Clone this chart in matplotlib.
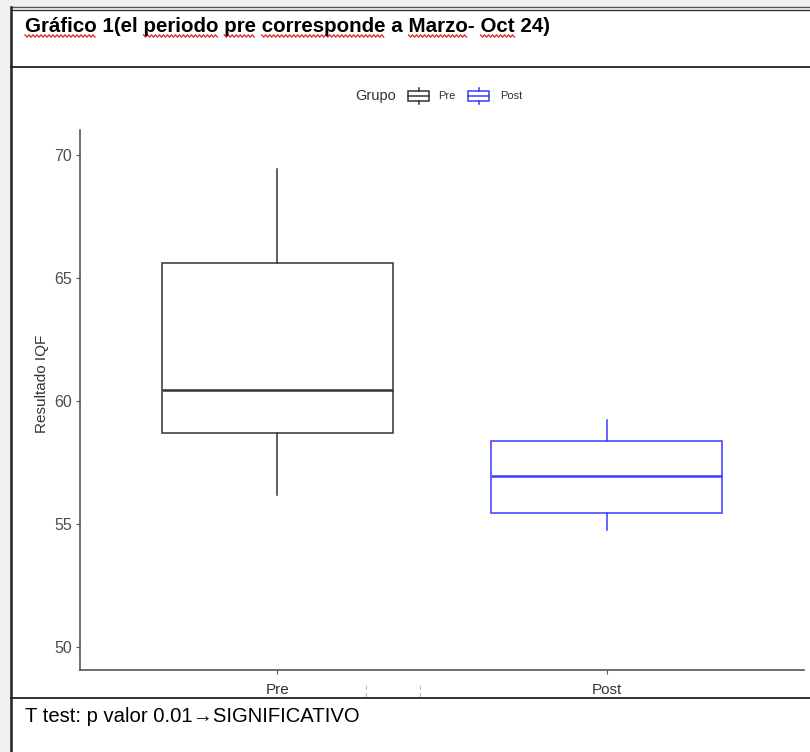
import matplotlib
matplotlib.use("Agg")
import matplotlib.pyplot as plt
import numpy as np
from matplotlib.patches import Rectangle

# datos del grafico
grupos = ["Pre", "Post"]
colores = ["#333333", "#3b3bff"]
whislo = [56.15, 54.75]
q1 = [58.7, 55.45]
mediana = [60.42, 56.95]
q3 = [65.6, 58.35]
whishi = [69.4, 59.2]

titulo = "Gráfico 1(el periodo pre corresponde a Marzo- Oct 24)"
subrayadas = ["Gráfico", "periodo", "pre", "corresponde", "Marzo", "Oct"]
nota = "T test: p valor 0.01\u2192SIGNIFICATIVO"

W, H = 810, 752
fig = plt.figure(figsize=(W / 100, H / 100), dpi=100)
fig.patch.set_facecolor("#f0f0f0")

def fx(px):
    return px / W

def fy(py):
    return 1 - py / H

# tabla del documento
bg = fig.add_axes([0, 0, 1, 1])
bg.set_xlim(0, W)
bg.set_ylim(H, 0)
bg.axis("off")
bg.add_patch(Rectangle((11, 8), W, H, facecolor="white", edgecolor="none"))
bg.plot([11, W], [7, 7], color="#555555", lw=1.0)
bg.plot([11, W], [9.5, 9.5], color="#333333", lw=1.0)
for y in [67, 698]:
    bg.plot([11, W], [y, y], color="#222222", lw=1.3)
bg.plot([11, 11], [7, H], color="#222222", lw=1.8)

tfont = dict(fontsize=14.8, fontweight="bold", family="Liberation Sans")
tx, ty = 25, 32
bg.text(tx, ty, titulo, va="baseline", ha="left", color="black", **tfont)

# subrayado rojo de la correccion ortografica
rend = fig.canvas.get_renderer()
inicio = 0
for w in subrayadas:
    k = titulo.index(w, inicio)
    inicio = k + len(w)
    pal = bg.text(tx, ty, titulo[:k + len(w)], va="baseline", ha="left", **tfont)
    x1 = tx + pal.get_window_extent(rend).width
    pal.remove()
    x0 = tx
    if k > 0:
        pre = bg.text(tx, ty, titulo[:k], va="baseline", ha="left", **tfont)
        x0 = tx + pre.get_window_extent(rend).width
        pre.remove()
    xs = np.arange(x0, x1 + 0.1, 2.0)
    ys = ty + 4 + np.where(np.arange(len(xs)) % 2 == 0, -1.2, 1.2)
    bg.plot(xs, ys, color="#e02020", lw=0.9)

bg.text(25, 722, nota, fontsize=14.6, family=["Liberation Sans", "DejaVu Sans"],
        va="baseline", ha="left", color="black")

# marcas sueltas de la captura
for x in [366, 420]:
    bg.plot([x, x], [686, 689], color="#bbbbbb", lw=0.8)
    bg.plot([x, x], [693, 696], color="#bbbbbb", lw=0.8)

# boxplot
ax = fig.add_axes([fx(80), fy(670), fx(804 - 80), (670 - 130) / H])
stats = []
for i, g in enumerate(grupos):
    stats.append({"label": g, "whislo": whislo[i], "q1": q1[i], "med": mediana[i],
                  "q3": q3[i], "whishi": whishi[i], "fliers": []})

for i, s in enumerate(stats):
    c = colores[i]
    ax.bxp([s], positions=[i + 1], widths=0.7, showcaps=False, patch_artist=True,
           boxprops=dict(facecolor="white", edgecolor=c, lw=1.1),
           whiskerprops=dict(color=c, lw=1.1),
           medianprops=dict(color=c, lw=1.8))

ax.set_xlim(0.4, 2.6)
ax.set_ylim(49.05, 71.0)
ax.set_yticks([50, 55, 60, 65, 70])
ax.set_xticks([1, 2])
ax.set_xticklabels(grupos)
ax.set_ylabel("Resultado IQF", fontsize=11, color="#333333", family="Liberation Sans")
ax.yaxis.set_label_coords(-0.043, (670 - 384) / (670 - 130))
for sp in ["top", "right"]:
    ax.spines[sp].set_visible(False)
for sp in ["left", "bottom"]:
    ax.spines[sp].set_color("#555555")
    ax.spines[sp].set_linewidth(1.2)
ax.tick_params(axis="y", length=3, color="#555555", labelsize=11.5, labelcolor="#4d4d4d", pad=3)
ax.tick_params(axis="x", length=3, color="#555555", labelsize=11, labelcolor="#333333", pad=6)
for t in ax.get_yticklabels() + ax.get_xticklabels():
    t.set_family("Liberation Sans")

# leyenda arriba
bg.text(355, 96, "Grupo", fontsize=10.5, family="Liberation Sans", va="center", ha="left", color="#333333")
def llave(x, c):
    bg.add_patch(Rectangle((x, 91), 21, 10, facecolor="white", edgecolor=c, lw=1.1))
    bg.plot([x, x + 21], [96, 96], color=c, lw=1.1)
    bg.plot([x + 10.5, x + 10.5], [88, 91], color=c, lw=1.1)
    bg.plot([x + 10.5, x + 10.5], [101, 104], color=c, lw=1.1)
llave(408, colores[0])
bg.text(438, 96, "Pre", fontsize=8, family="Liberation Sans", va="center", ha="left", color="#333333")
llave(468, colores[1])
bg.text(500, 96, "Post", fontsize=8, family="Liberation Sans", va="center", ha="left", color="#333333")

fig.savefig("out.png", dpi=100, facecolor=fig.get_facecolor())
